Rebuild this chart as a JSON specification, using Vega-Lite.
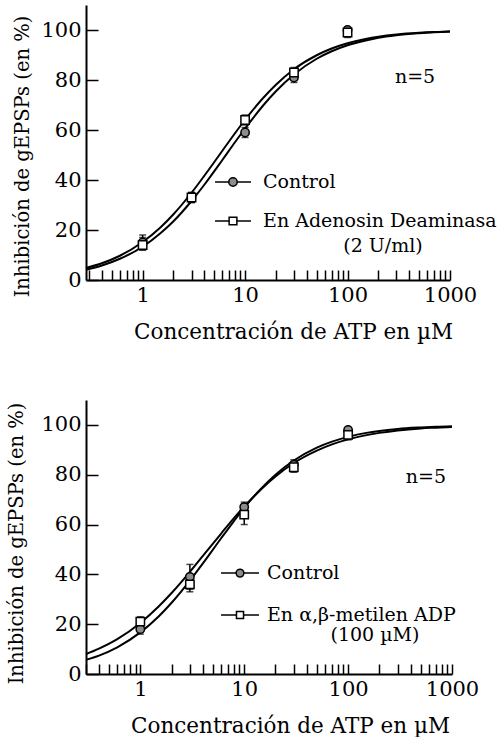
{
  "$schema": "https://vega.github.io/schema/vega-lite/v6.json",
  "background": "white",
  "padding": {"left": 6, "top": 5, "right": 0, "bottom": 0},
  "spacing": 57,
  "config": {
    "font": "DejaVu Serif",
    "view": {"stroke": null},
    "text": {"font": "DejaVu Serif", "fontSize": 19, "color": "black", "baseline": "middle"},
    "axis": {
      "labelFont": "DejaVu Serif", "labelFontSize": 21, "labelColor": "black",
      "titleFont": "DejaVu Serif", "titleFontSize": 21.5, "titleFontWeight": "normal", "titleColor": "black",
      "domainColor": "black", "domainWidth": 2, "tickColor": "black", "tickWidth": 1.5, "grid": false
    },
    "axisY": {"titleFontSize": 19.5}
  },
  "resolve": {"scale": {"shape": "independent", "fill": "independent", "x": "independent", "y": "independent"}},
  "datasets": {
    "topCurves": [
      {"x": 0.28, "y": 4.1, "series": "Control"}, {"x": 0.4, "y": 5.8, "series": "Control"}, {"x": 0.6, "y": 8.5, "series": "Control"}, {"x": 1, "y": 13.3, "series": "Control"}, {"x": 1.5, "y": 18.8, "series": "Control"}, {"x": 2, "y": 23.5, "series": "Control"}, {"x": 3, "y": 31.6, "series": "Control"}, {"x": 4, "y": 38.1, "series": "Control"}, {"x": 6, "y": 48.0, "series": "Control"}, {"x": 8, "y": 55.2, "series": "Control"}, {"x": 10, "y": 60.6, "series": "Control"}, {"x": 15, "y": 69.8, "series": "Control"}, {"x": 20, "y": 75.5, "series": "Control"}, {"x": 30, "y": 82.2, "series": "Control"}, {"x": 50, "y": 88.5, "series": "Control"}, {"x": 70, "y": 91.5, "series": "Control"}, {"x": 100, "y": 93.9, "series": "Control"}, {"x": 150, "y": 95.8, "series": "Control"}, {"x": 200, "y": 96.9, "series": "Control"}, {"x": 300, "y": 97.9, "series": "Control"}, {"x": 500, "y": 98.7, "series": "Control"}, {"x": 700, "y": 99.1, "series": "Control"}, {"x": 1000, "y": 99.4, "series": "Control"},
      {"x": 0.28, "y": 4.8, "series": "En Adenosin Deaminasa"}, {"x": 0.4, "y": 6.7, "series": "En Adenosin Deaminasa"}, {"x": 0.6, "y": 9.7, "series": "En Adenosin Deaminasa"}, {"x": 1, "y": 15.2, "series": "En Adenosin Deaminasa"}, {"x": 1.5, "y": 21.1, "series": "En Adenosin Deaminasa"}, {"x": 2, "y": 26.3, "series": "En Adenosin Deaminasa"}, {"x": 3, "y": 34.9, "series": "En Adenosin Deaminasa"}, {"x": 4, "y": 41.7, "series": "En Adenosin Deaminasa"}, {"x": 6, "y": 51.7, "series": "En Adenosin Deaminasa"}, {"x": 8, "y": 58.8, "series": "En Adenosin Deaminasa"}, {"x": 10, "y": 64.1, "series": "En Adenosin Deaminasa"}, {"x": 15, "y": 72.8, "series": "En Adenosin Deaminasa"}, {"x": 20, "y": 78.1, "series": "En Adenosin Deaminasa"}, {"x": 30, "y": 84.3, "series": "En Adenosin Deaminasa"}, {"x": 50, "y": 89.9, "series": "En Adenosin Deaminasa"}, {"x": 70, "y": 92.6, "series": "En Adenosin Deaminasa"}, {"x": 100, "y": 94.7, "series": "En Adenosin Deaminasa"}, {"x": 150, "y": 96.4, "series": "En Adenosin Deaminasa"}, {"x": 200, "y": 97.3, "series": "En Adenosin Deaminasa"}, {"x": 300, "y": 98.2, "series": "En Adenosin Deaminasa"}, {"x": 500, "y": 98.9, "series": "En Adenosin Deaminasa"}, {"x": 700, "y": 99.2, "series": "En Adenosin Deaminasa"}, {"x": 1000, "y": 99.4, "series": "En Adenosin Deaminasa"}
    ],
    "topPoints": [
      {"x": 1, "y": 15, "lo": 12, "hi": 18, "series": "Control"},
      {"x": 3, "y": 33, "lo": 31, "hi": 35, "series": "Control"},
      {"x": 10, "y": 59, "lo": 57, "hi": 61, "series": "Control"},
      {"x": 30, "y": 81, "lo": 79, "hi": 83, "series": "Control"},
      {"x": 100, "y": 100, "lo": 98, "hi": 101, "series": "Control"},
      {"x": 1, "y": 14, "lo": 12, "hi": 17, "series": "En Adenosin Deaminasa"},
      {"x": 3, "y": 33, "lo": 31, "hi": 35, "series": "En Adenosin Deaminasa"},
      {"x": 10, "y": 64, "lo": 62, "hi": 66, "series": "En Adenosin Deaminasa"},
      {"x": 30, "y": 83, "lo": 81, "hi": 85, "series": "En Adenosin Deaminasa"},
      {"x": 100, "y": 99, "lo": 97, "hi": 101, "series": "En Adenosin Deaminasa"}
    ],
    "bottomCurves": [
      {"x": 0.3, "y": 5.7, "series": "Control"}, {"x": 0.4, "y": 7.4, "series": "Control"}, {"x": 0.6, "y": 10.7, "series": "Control"}, {"x": 1, "y": 16.7, "series": "Control"}, {"x": 1.5, "y": 23.1, "series": "Control"}, {"x": 2, "y": 28.6, "series": "Control"}, {"x": 3, "y": 37.5, "series": "Control"}, {"x": 4, "y": 44.4, "series": "Control"}, {"x": 6, "y": 54.5, "series": "Control"}, {"x": 8, "y": 61.5, "series": "Control"}, {"x": 10, "y": 66.7, "series": "Control"}, {"x": 15, "y": 75.0, "series": "Control"}, {"x": 20, "y": 80.0, "series": "Control"}, {"x": 30, "y": 85.7, "series": "Control"}, {"x": 50, "y": 90.9, "series": "Control"}, {"x": 70, "y": 93.3, "series": "Control"}, {"x": 100, "y": 95.2, "series": "Control"}, {"x": 150, "y": 96.8, "series": "Control"}, {"x": 200, "y": 97.6, "series": "Control"}, {"x": 300, "y": 98.4, "series": "Control"}, {"x": 500, "y": 99.0, "series": "Control"}, {"x": 700, "y": 99.3, "series": "Control"}, {"x": 1000, "y": 99.5, "series": "Control"},
      {"x": 0.3, "y": 8.0, "series": "En α,β-metilen  ADP"}, {"x": 0.4, "y": 10.2, "series": "En α,β-metilen  ADP"}, {"x": 0.6, "y": 14.0, "series": "En α,β-metilen  ADP"}, {"x": 1, "y": 20.5, "series": "En α,β-metilen  ADP"}, {"x": 1.5, "y": 27.1, "series": "En α,β-metilen  ADP"}, {"x": 2, "y": 32.5, "series": "En α,β-metilen  ADP"}, {"x": 3, "y": 41.0, "series": "En α,β-metilen  ADP"}, {"x": 4, "y": 47.4, "series": "En α,β-metilen  ADP"}, {"x": 6, "y": 56.4, "series": "En α,β-metilen  ADP"}, {"x": 8, "y": 62.7, "series": "En α,β-metilen  ADP"}, {"x": 10, "y": 67.2, "series": "En α,β-metilen  ADP"}, {"x": 15, "y": 74.7, "series": "En α,β-metilen  ADP"}, {"x": 20, "y": 79.3, "series": "En α,β-metilen  ADP"}, {"x": 30, "y": 84.7, "series": "En α,β-metilen  ADP"}, {"x": 50, "y": 89.7, "series": "En α,β-metilen  ADP"}, {"x": 70, "y": 92.2, "series": "En α,β-metilen  ADP"}, {"x": 100, "y": 94.2, "series": "En α,β-metilen  ADP"}, {"x": 150, "y": 95.9, "series": "En α,β-metilen  ADP"}, {"x": 200, "y": 96.8, "series": "En α,β-metilen  ADP"}, {"x": 300, "y": 97.8, "series": "En α,β-metilen  ADP"}, {"x": 500, "y": 98.6, "series": "En α,β-metilen  ADP"}, {"x": 700, "y": 98.9, "series": "En α,β-metilen  ADP"}, {"x": 1000, "y": 99.2, "series": "En α,β-metilen  ADP"}
    ],
    "bottomPoints": [
      {"x": 1, "y": 18, "lo": 16, "hi": 20, "series": "Control"},
      {"x": 3, "y": 39, "lo": 34, "hi": 44, "series": "Control"},
      {"x": 10, "y": 67, "lo": 65, "hi": 69, "series": "Control"},
      {"x": 30, "y": 84, "lo": 82, "hi": 86, "series": "Control"},
      {"x": 100, "y": 98, "lo": 96, "hi": 99, "series": "Control"},
      {"x": 1, "y": 21, "lo": 19, "hi": 23, "series": "En α,β-metilen  ADP"},
      {"x": 3, "y": 36, "lo": 33, "hi": 39, "series": "En α,β-metilen  ADP"},
      {"x": 10, "y": 64, "lo": 60, "hi": 67, "series": "En α,β-metilen  ADP"},
      {"x": 30, "y": 83, "lo": 81, "hi": 85, "series": "En α,β-metilen  ADP"},
      {"x": 100, "y": 96, "lo": 94, "hi": 98, "series": "En α,β-metilen  ADP"}
    ],
    "one": [{}]
  },
  "vconcat": [
    {
      "width": 364,
      "height": 275,
      "layer": [
        {"data": {"name": "topCurves"}, "mark": {"type": "line", "color": "black", "strokeWidth": 2, "interpolate": "monotone"},
          "encoding": {
            "x": {"field": "x", "type": "quantitative", "scale": {"type": "log", "domain": [0.28, 1000], "nice": false},
              "axis": {"title": "Concentración de ATP en µM", "titleX": 207, "titlePadding": 16,
                "values": [0.3,0.4,0.5,0.6,0.7,0.8,0.9,1,2,3,4,5,6,7,8,9,10,20,30,40,50,60,70,80,90,100,200,300,400,500,600,700,800,900,1000],
                "labelExpr": "indexof([1,10,100,1000], datum.value) >= 0 ? datum.value + '' : ''",
                "tickSize": -10, "labelPadding": 14, "labelFlush": false, "labelOverlap": false,
                "encode": {"ticks": {"update": {"y2": {"signal": "indexof([1,10,100,1000], datum.value) >= 0 ? -10 : -4"}}}}}},
            "y": {"field": "y", "type": "quantitative", "title": "Inhibición de gEPSPs (en %)", "scale": {"domain": [0, 110], "nice": false},
              "axis": {"titleY": 151, "values": [0,20,40,60,80,100], "tickSize": -12, "labelPadding": 17, "titlePadding": 8}},
            "detail": {"field": "series"}}},
        {"data": {"name": "topPoints"}, "mark": {"type": "errorbar", "color": "black", "thickness": 1.5, "ticks": {"size": 7, "thickness": 1.5, "color": "black"}},
          "encoding": {"x": {"field": "x", "type": "quantitative", "title": "Concentración de ATP en µM"}, "y": {"field": "lo", "type": "quantitative", "title": "Inhibición de gEPSPs (en %)"}, "y2": {"field": "hi"}}},
        {"data": {"name": "topPoints"}, "mark": {"type": "point", "filled": true, "opacity": 1, "size": 70, "stroke": "black", "strokeWidth": 1.5},
          "encoding": {
            "x": {"field": "x", "type": "quantitative", "title": "Concentración de ATP en µM"}, "y": {"field": "y", "type": "quantitative", "title": "Inhibición de gEPSPs (en %)"},
            "shape": {"field": "series", "type": "nominal", "scale": {"domain": ["Control", "En Adenosin Deaminasa"], "range": ["circle", "square"]}, "legend": null},
            "fill": {"field": "series", "type": "nominal", "scale": {"domain": ["Control", "En Adenosin Deaminasa"], "range": ["#8c8c8c", "white"]}, "legend": null}
          }},
        {"data": {"name": "one"}, "mark": {"type": "rule", "color": "black", "strokeWidth": 1.5},
          "encoding": {"x": {"datum": 5.09, "type": "quantitative"}, "x2": {"datum": 11.42}, "y": {"datum": 39.2, "type": "quantitative"}}},
        {"data": {"name": "one"}, "mark": {"type": "rule", "color": "black", "strokeWidth": 1.5},
          "encoding": {"x": {"datum": 5.09, "type": "quantitative"}, "x2": {"datum": 11.42}, "y": {"datum": 23.6, "type": "quantitative"}}},
        {"data": {"name": "one"}, "mark": {"type": "point", "shape": "circle", "filled": true, "fill": "#8c8c8c", "stroke": "black", "strokeWidth": 1.5, "size": 70, "opacity": 1},
          "encoding": {"x": {"datum": 7.62, "type": "quantitative"}, "y": {"datum": 39.2, "type": "quantitative"}}},
        {"data": {"name": "one"}, "mark": {"type": "point", "shape": "square", "filled": true, "fill": "white", "stroke": "black", "strokeWidth": 1.5, "size": 60, "opacity": 1},
          "encoding": {"x": {"datum": 7.62, "type": "quantitative"}, "y": {"datum": 23.6, "type": "quantitative"}}},
        {"data": {"name": "one"}, "mark": {"type": "text", "align": "left"},
          "encoding": {"x": {"datum": 14.96, "type": "quantitative"}, "y": {"datum": 39.2, "type": "quantitative"}, "text": {"value": "Control"}}},
        {"data": {"name": "one"}, "mark": {"type": "text", "align": "left"},
          "encoding": {"x": {"datum": 14.96, "type": "quantitative"}, "y": {"datum": 23.6, "type": "quantitative"}, "text": {"value": "En Adenosin Deaminasa"}}},
        {"data": {"name": "one"}, "mark": {"type": "text", "align": "center"},
          "encoding": {"x": {"datum": 222, "type": "quantitative"}, "y": {"datum": 13.6, "type": "quantitative"}, "text": {"value": "(2 U/ml)"}}},
        {"data": {"name": "one"}, "mark": {"type": "text", "align": "center", "fontSize": 19},
          "encoding": {"x": {"datum": 456, "type": "quantitative"}, "y": {"datum": 81.2, "type": "quantitative"}, "text": {"value": "n=5"}}}
      ]
    },
    {
      "width": 366,
      "height": 274,
      "layer": [
        {"data": {"name": "bottomCurves"}, "mark": {"type": "line", "color": "black", "strokeWidth": 2, "interpolate": "monotone"},
          "encoding": {
            "x": {"field": "x", "type": "quantitative", "scale": {"type": "log", "domain": [0.3, 1000], "nice": false},
              "axis": {"title": "Concentración de ATP en µM", "titleX": 204, "titlePadding": 16,
                "values": [0.3,0.4,0.5,0.6,0.7,0.8,0.9,1,2,3,4,5,6,7,8,9,10,20,30,40,50,60,70,80,90,100,200,300,400,500,600,700,800,900,1000],
                "labelExpr": "indexof([1,10,100,1000], datum.value) >= 0 ? datum.value + '' : ''",
                "tickSize": -10, "labelPadding": 14, "labelFlush": false, "labelOverlap": false,
                "encode": {"ticks": {"update": {"y2": {"signal": "indexof([1,10,100,1000], datum.value) >= 0 ? -10 : -4"}}}}}},
            "y": {"field": "y", "type": "quantitative", "title": "Inhibición de gEPSPs (en %)", "scale": {"domain": [0, 110], "nice": false},
              "axis": {"titleY": 143, "values": [0,20,40,60,80,100], "tickSize": -12, "labelPadding": 17, "titlePadding": 14}},
            "detail": {"field": "series"}}},
        {"data": {"name": "bottomPoints"}, "mark": {"type": "errorbar", "color": "black", "thickness": 1.5, "ticks": {"size": 7, "thickness": 1.5, "color": "black"}},
          "encoding": {"x": {"field": "x", "type": "quantitative", "title": "Concentración de ATP en µM"}, "y": {"field": "lo", "type": "quantitative", "title": "Inhibición de gEPSPs (en %)"}, "y2": {"field": "hi"}}},
        {"data": {"name": "bottomPoints"}, "mark": {"type": "point", "filled": true, "opacity": 1, "size": 70, "stroke": "black", "strokeWidth": 1.5},
          "encoding": {
            "x": {"field": "x", "type": "quantitative", "title": "Concentración de ATP en µM"}, "y": {"field": "y", "type": "quantitative", "title": "Inhibición de gEPSPs (en %)"},
            "shape": {"field": "series", "type": "nominal", "scale": {"domain": ["Control", "En α,β-metilen  ADP"], "range": ["circle", "square"]}, "legend": null},
            "fill": {"field": "series", "type": "nominal", "scale": {"domain": ["Control", "En α,β-metilen  ADP"], "range": ["#8c8c8c", "white"]}, "legend": null}
          }},
        {"data": {"name": "one"}, "mark": {"type": "rule", "color": "black", "strokeWidth": 1.5},
          "encoding": {"x": {"datum": 5.98, "type": "quantitative"}, "x2": {"datum": 13.88}, "y": {"datum": 40.5, "type": "quantitative"}}},
        {"data": {"name": "one"}, "mark": {"type": "rule", "color": "black", "strokeWidth": 1.5},
          "encoding": {"x": {"datum": 5.98, "type": "quantitative"}, "x2": {"datum": 13.88}, "y": {"datum": 23.7, "type": "quantitative"}}},
        {"data": {"name": "one"}, "mark": {"type": "point", "shape": "circle", "filled": true, "fill": "#8c8c8c", "stroke": "black", "strokeWidth": 1.5, "size": 60, "opacity": 1},
          "encoding": {"x": {"datum": 9.11, "type": "quantitative"}, "y": {"datum": 40.5, "type": "quantitative"}}},
        {"data": {"name": "one"}, "mark": {"type": "point", "shape": "square", "filled": true, "fill": "white", "stroke": "black", "strokeWidth": 1.5, "size": 50, "opacity": 1},
          "encoding": {"x": {"datum": 9.11, "type": "quantitative"}, "y": {"datum": 23.7, "type": "quantitative"}}},
        {"data": {"name": "one"}, "mark": {"type": "text", "align": "left"},
          "encoding": {"x": {"datum": 16.57, "type": "quantitative"}, "y": {"datum": 40.5, "type": "quantitative"}, "text": {"value": "Control"}}},
        {"data": {"name": "one"}, "mark": {"type": "text", "align": "left"},
          "encoding": {"x": {"datum": 16.57, "type": "quantitative"}, "y": {"datum": 23.7, "type": "quantitative"}, "text": {"value": "En α,β-metilen  ADP"}}},
        {"data": {"name": "one"}, "mark": {"type": "text", "align": "center"},
          "encoding": {"x": {"datum": 181.5, "type": "quantitative"}, "y": {"datum": 15.7, "type": "quantitative"}, "text": {"value": "(100 µM)"}}},
        {"data": {"name": "one"}, "mark": {"type": "text", "align": "center", "fontSize": 19},
          "encoding": {"x": {"datum": 562, "type": "quantitative"}, "y": {"datum": 79.1, "type": "quantitative"}, "text": {"value": "n=5"}}}
      ]
    }
  ]
}
